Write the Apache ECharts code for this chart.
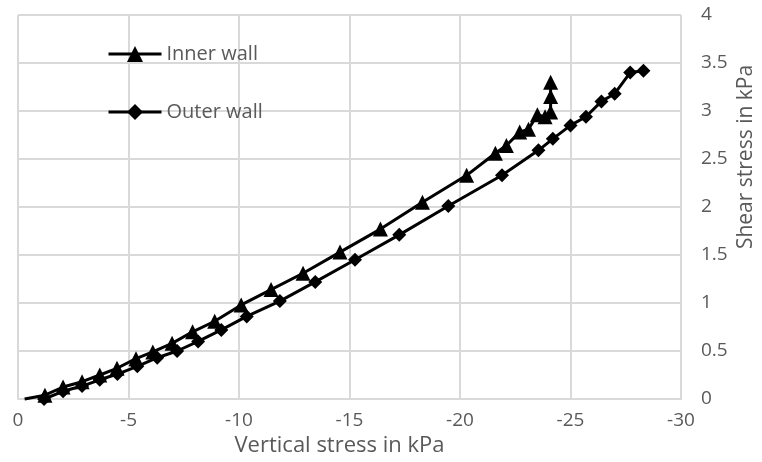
<!DOCTYPE html>
<html>
<head>
<meta charset="utf-8">
<script src="https://cdn.jsdelivr.net/npm/echarts@6/dist/echarts.min.js"></script>
<style>
  html, body { margin: 0; padding: 0; background: #ffffff; }
  #chart { width: 762px; height: 462px; }
</style>
</head>
<body>
<div id="chart"></div>
<script>
// Vertical stress (kPa) and shear stress (kPa) measured at the inner wall
var innerStress = [-0.3, -1.22, -2.04, -2.9, -3.7, -4.48, -5.34, -6.1, -6.97, -7.9, -8.9, -10.1, -11.45, -12.9, -14.57, -16.4, -18.3, -20.3, -21.6, -22.1, -22.7, -23.1, -23.5, -23.85, -24.1, -24.1, -24.1];
var innerShear  = [0.0, 0.04, 0.125, 0.18, 0.25, 0.32, 0.42, 0.49, 0.58, 0.70, 0.81, 0.98, 1.14, 1.31, 1.53, 1.77, 2.05, 2.33, 2.56, 2.64, 2.78, 2.81, 2.96, 2.94, 2.99, 3.15, 3.30];

// Vertical stress (kPa) and shear stress (kPa) measured at the outer wall
var outerStress = [-1.18, -2.04, -2.9, -3.7, -4.5, -5.4, -6.3, -7.2, -8.15, -9.2, -10.35, -11.85, -13.45, -15.25, -17.25, -19.47, -21.9, -23.55, -24.2, -25.0, -25.7, -26.4, -27.0, -27.7, -28.3];
var outerShear  = [0.0, 0.08, 0.135, 0.20, 0.26, 0.34, 0.43, 0.50, 0.60, 0.72, 0.86, 1.02, 1.22, 1.45, 1.71, 2.01, 2.33, 2.59, 2.71, 2.85, 2.94, 3.10, 3.18, 3.40, 3.42];

var seriesNames = ['Inner wall', 'Outer wall'];
var xTitle = 'Vertical stress in kPa';
var yTitle = 'Shear stress in kPa';

function pairs(xs, ys) {
  return xs.map(function (x, i) { return [x, ys[i]]; });
}

var innerData = pairs(innerStress, innerShear);
// the trace starts just off the origin without a marker
innerData[0] = { value: innerData[0], symbol: 'none' };
var outerData = pairs(outerStress, outerShear);

var textColor = '#595959';
var gridColor = '#d9d9d9';
var fontFamily = '"Open Sans", sans-serif';

var chart = echarts.init(document.getElementById('chart'), null, { renderer: 'canvas' });
chart.setOption({
  animation: false,
  backgroundColor: '#ffffff',
  grid: { left: 18, right: 81, top: 15, bottom: 63, containLabel: false },
  legend: {
    orient: 'vertical',
    left: 102,
    top: 39,
    itemWidth: 53,
    itemHeight: 20,
    itemGap: 38,
    lineStyle: { width: 3, color: '#000000' },
    textStyle: { color: textColor, fontSize: 20, fontFamily: fontFamily },
    data: seriesNames
  },
  xAxis: {
    type: 'value',
    min: -30,
    max: 0,
    interval: 5,
    inverse: true,
    name: xTitle,
    nameLocation: 'middle',
    nameGap: 26,
    nameTextStyle: { color: textColor, fontSize: 22, fontFamily: fontFamily, padding: [0, 20, 0, 0] },
    axisLine: { show: true, lineStyle: { color: gridColor, width: 2 } },
    axisTick: { show: false },
    axisLabel: { color: textColor, fontSize: 19, fontFamily: fontFamily, margin: 12 },
    splitLine: { show: true, lineStyle: { color: gridColor, width: 2 } }
  },
  yAxis: {
    type: 'value',
    position: 'right',
    min: 0,
    max: 4,
    interval: 0.5,
    axisLine: { show: false },
    axisTick: { show: false },
    axisLabel: { color: textColor, fontSize: 19, fontFamily: fontFamily, margin: 20, align: 'left' },
    splitLine: { show: true, lineStyle: { color: gridColor, width: 2 } }
  },
  graphic: [{
    type: 'text',
    x: 746,
    y: 157,
    rotation: Math.PI / 2,
    style: {
      text: yTitle,
      fill: textColor,
      fontSize: 21,
      fontFamily: fontFamily,
      textAlign: 'center',
      textVerticalAlign: 'middle'
    }
  }],
  series: [
    {
      name: seriesNames[0],
      type: 'line',
      data: innerData,
      symbol: 'triangle',
      symbolSize: 15,
      showAllSymbol: true,
      lineStyle: { color: '#000000', width: 3 },
      itemStyle: { color: '#000000' },
      clip: false,
      z: 3
    },
    {
      name: seriesNames[1],
      type: 'line',
      data: outerData,
      symbol: 'diamond',
      symbolSize: 14,
      showAllSymbol: true,
      lineStyle: { color: '#000000', width: 3 },
      itemStyle: { color: '#000000' },
      clip: false,
      z: 2
    }
  ]
});
</script>
</body>
</html>
